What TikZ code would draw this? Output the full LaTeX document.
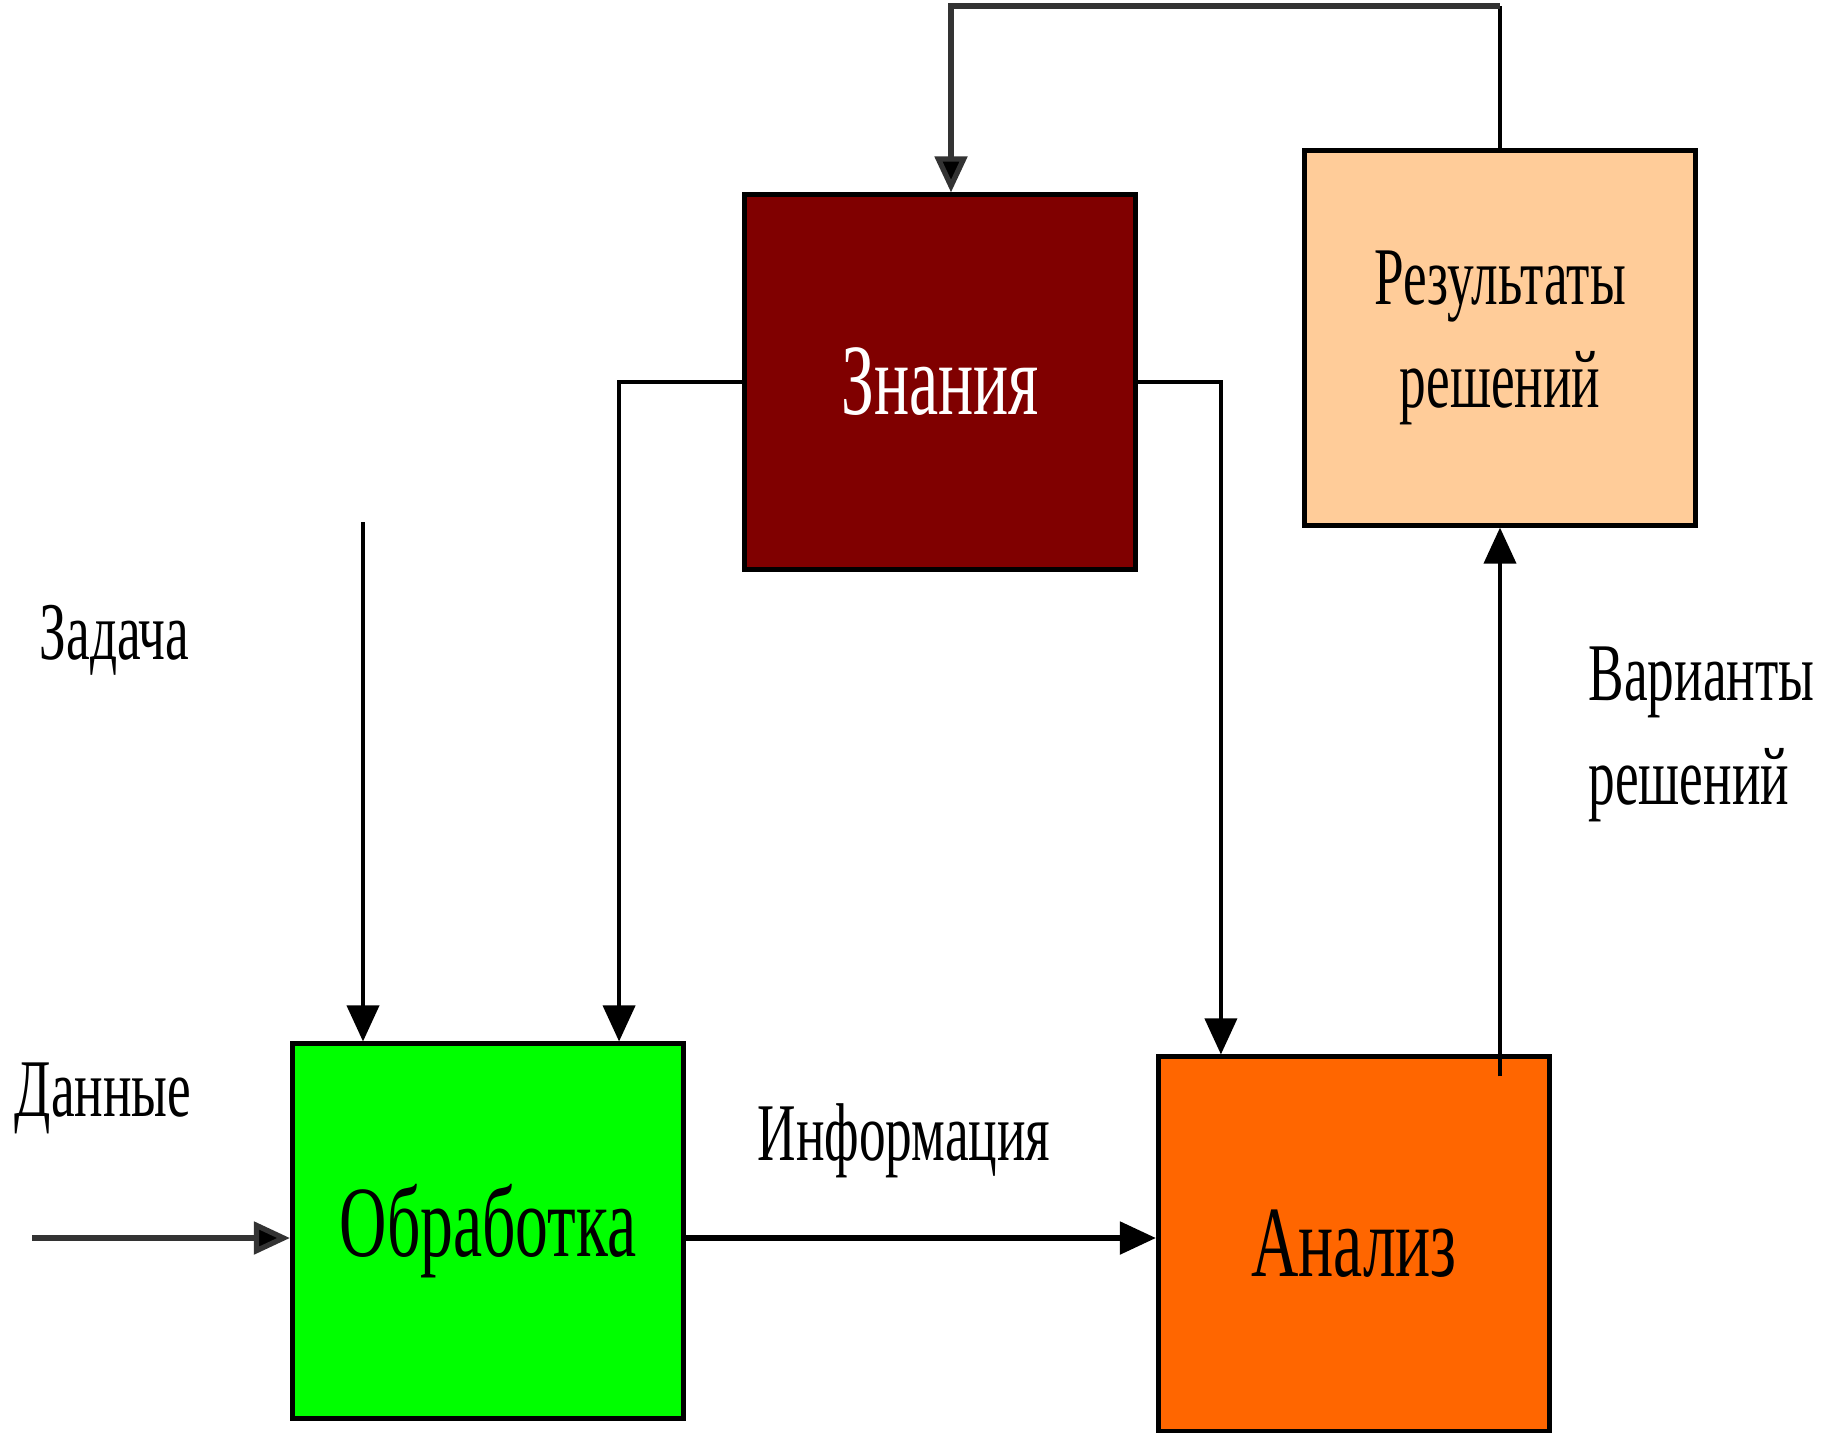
\documentclass[tikz,border=0pt]{standalone}
\usepackage{fontspec}
\setmainfont{Liberation Serif}[FakeStretch=0.65]
\usepackage{xcolor}
\usetikzlibrary{arrows.meta, calc}
\tikzset{>={Triangle[width=3.2mm,length=3.6mm]}}
\definecolor{knowred}{HTML}{800000}
\definecolor{procgreen}{HTML}{00FF00}
\definecolor{analorange}{HTML}{FF6600}
\definecolor{respeach}{HTML}{FFCC99}

\begin{document}
\begin{tikzpicture}[x=0.01cm, y=-0.01cm, block/.style={rectangle, draw=black, line width=1.4pt, minimum width=3.91cm, minimum height=3.74cm, inner sep=0pt, font=\fontsize{28.7pt}{34pt}\selectfont}, smallblock/.style={block, font=\fontsize{23.3pt}{29.5pt}\selectfont}, label/.style={inner sep=0pt, font=\fontsize{23.3pt}{29.5pt}\selectfont}, link/.style={line width=1.1pt}, thicklink/.style={line width=1.5pt, draw=black!80, -{Triangle[width=3.2mm,length=3.6mm,fill=black]}}]
    \useasboundingbox (0,0) rectangle (1826,1432);

    %Nodes
    \node[block, fill=procgreen](proc) at (488,1231){Обработка};
    \node[block, fill=knowred, text=white](know) at (940,382){Знания};
    \node[smallblock, fill=respeach, align=center](res) at (1500,338){Результаты\\решений};
    \node[block, fill=analorange](anal) at (1354,1244){Анализ};
    \node[label, anchor=base west](task) at (39,659){Задача};
    \node[label, anchor=base west](data) at (14,1116){Данные};
    \node[label, anchor=base west](info) at (757,1160){Информация};
    \node[label, anchor=north west, align=left](vars) at (1588,646){Варианты\\решений};
    \coordinate (datain) at (32,1238);
    \coordinate (taskin) at (363,522);
    \coordinate (top) at (0,6);

    %Lines
    \draw[thicklink] (datain) -- (datain -| proc.west);
    \draw[link, ->] (taskin) -- (taskin |- proc.north);
    \draw[thicklink, draw=black] (datain -| proc.east) -- (datain -| anal.west);
    \draw[link, ->] (know.west) -| ([xshift=1.31cm]proc.north);
    \draw[link, ->] (know.east) -| ([xshift=-1.33cm]anal.north);
    \draw[link, ->] ($(res.south |- anal.north)+(0,22)$) -- (res.south);
    \draw[link] (res.north) -- (res.north |- top);
    \draw[thicklink] (res.north |- top) -| ([xshift=0.11cm]know.north);

\end{tikzpicture}
\end{document}
